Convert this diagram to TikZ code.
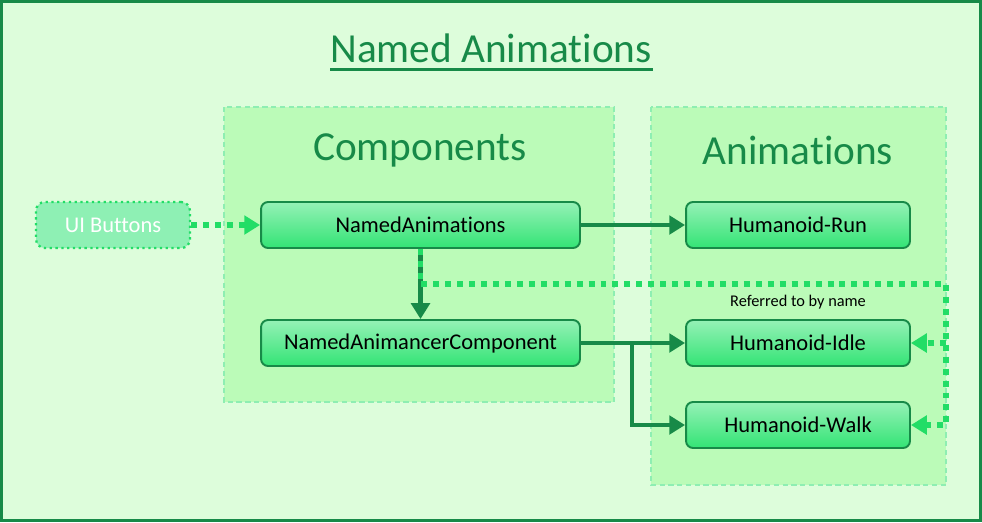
\documentclass[tikz,border=0pt]{standalone}
\usepackage{fontspec}
\setmainfont[RawFeature={-liga;-clig;-calt;-dlig;-ccmp}]{Carlito}
\usepackage{xcolor}
\usetikzlibrary{arrows.meta,positioning}

\definecolor{darkgrn}{HTML}{178A48}
\definecolor{brightgrn}{HTML}{22DD66}
\definecolor{bgfill}{HTML}{DDFDDB}
\definecolor{groupfill}{HTML}{BBFBB8}
\definecolor{groupline}{HTML}{8EEEB2}
\definecolor{boxtop}{HTML}{95F1B6}
\definecolor{boxbot}{HTML}{33E475}
\definecolor{uifill}{HTML}{8EF0B4}

\begin{document}
\begin{tikzpicture}[x=0.02cm,y=-0.02cm,
box/.style={draw=darkgrn,line width=1.1pt,rounded corners=4pt,top color=boxtop,bottom color=boxbot,
  minimum height=0.92cm,inner sep=0pt,font=\fontsize{12.8}{15}\selectfont},
group/.style={draw=groupline,fill=groupfill,line width=0.9pt,dash pattern=on 3pt off 2pt},
grouplabel/.style={text=darkgrn,font=\fontsize{23.5}{28}\selectfont},
arrow/.style={-{Triangle[length=9pt,width=10.5pt]},line width=2.8pt,draw=darkgrn},
dotarrow/.style={-{Triangle[length=9pt,width=10.5pt]},line width=3.4pt,draw=brightgrn,dash pattern=on 3.4pt off 3.4pt}
]
\useasboundingbox (0,0) rectangle (982,522);
\draw[darkgrn,fill=bgfill,line width=1.7pt] (1.5,1.5) rectangle (980.5,520.5);

% title
\node[text=darkgrn,font=\fontsize{23.5}{28}\selectfont] (title) at (491,48) {Named Animations};
\draw[darkgrn,line width=1.7pt] (330,69) -- (653,69);

% groups
\draw[group] (224,107) rectangle (614,402);
\draw[group] (651,107) rectangle (946,485);
\node[grouplabel] (complabel) at (420,150) {Components};
\node[grouplabel] (animlabel) at (798,150) {Animations};

% nodes
\node[draw=brightgrn,fill=uifill,line width=1.3pt,dotted,rounded corners=5pt,minimum width=3.08cm,
  minimum height=0.92cm,text=white,font=\fontsize{12.8}{15}\selectfont] (ui) at (113,225) {UI Buttons};
\node[box,minimum width=6.38cm] (nanim) at (420.5,225) {NamedAnimations};
\node[box,minimum width=6.38cm] (nacomp) at (420.5,343) {NamedAnimancerComponent};
\node[box,minimum width=4.48cm] (run) at (798,225) {Humanoid-Run};
\node[box,minimum width=4.48cm] (idle) at (798,343) {Humanoid-Idle};
\node[box,minimum width=4.48cm] (walk) at (798,425) {Humanoid-Walk};
\node[font=\fontsize{9.3}{11}\selectfont] (refname) at (798,302) {Referred to by name};

\coordinate (loopcorner) at (946,284);
\coordinate (split) at (632,343);

% connectors
\draw[arrow] (nanim.east) -- (run.west);
\draw[arrow] (nanim.south) -- (nacomp.north);
\draw[arrow] (nacomp.east) -- (idle.west);
\draw[arrow] (split) |- (walk.west);
\draw[dotarrow] (ui.east) -- (nanim.west);
\draw[dotarrow] (nanim.south) |- (loopcorner) |- (walk.east);
\draw[dotarrow] (loopcorner |- idle.east) -- (idle.east);
\end{tikzpicture}
\end{document}
